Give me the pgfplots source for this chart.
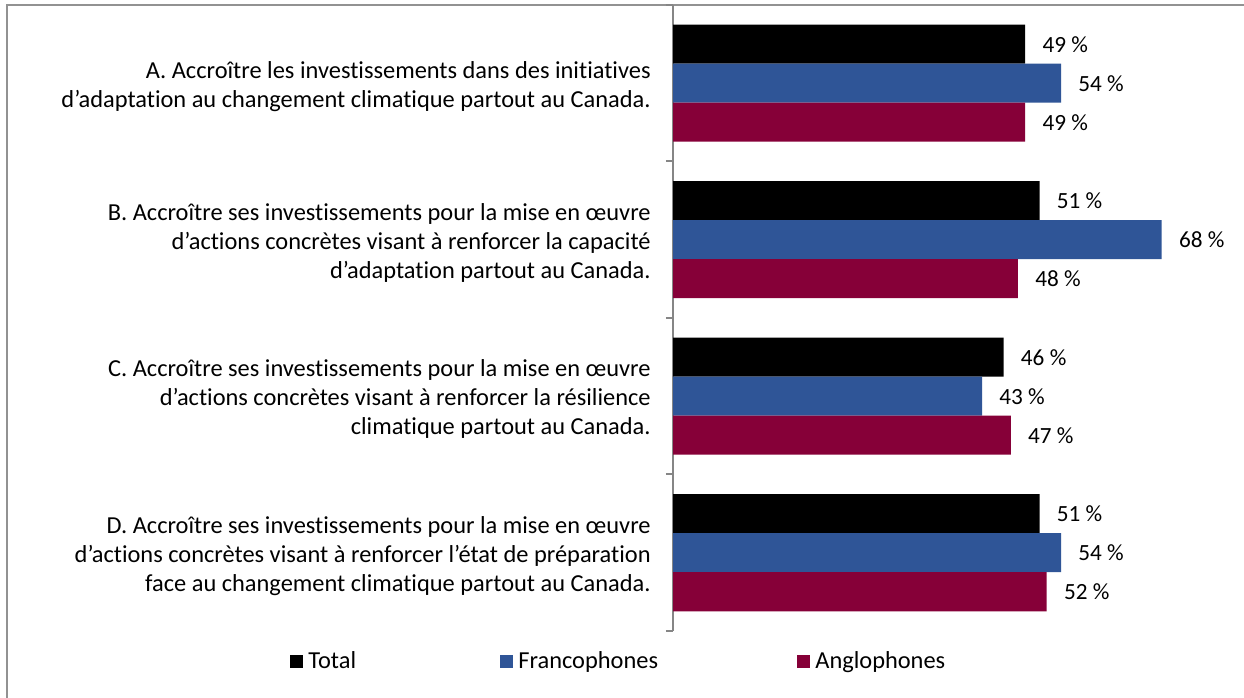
\documentclass[border=0pt]{standalone}
\usepackage{fontspec}
\setmainfont{Carlito}[Ligatures=NoCommon]
\usepackage{pgfplots}
\pgfplotsset{compat=1.18}
\definecolor{cTotal}{RGB}{0,0,0}
\definecolor{cFranco}{RGB}{47,85,151}
\definecolor{cAnglo}{RGB}{134,0,56}
\definecolor{axgray}{RGB}{134,134,134}
\begin{document}
\begin{tikzpicture}[font=\fontsize{12.2bp}{14.5bp}\selectfont]
\useasboundingbox (0,0) rectangle (622bp,349bp);
\fill[white] (0,0) rectangle (622bp,349bp);
\draw[axgray!90, line width=1bp] (3.25bp,0) -- (3.25bp,346.5bp) -- (622bp,346.5bp);
\begin{axis}[
  at={(336.5bp,33.5bp)}, anchor=south west,
  scale only axis, width=269.5bp, height=313bp,
  xbar, bar width=19.5bp,
  xmin=0, xmax=75, ymin=-0.5, ymax=3.5,
  axis x line=none, axis y line*=left,
  y axis line style={axgray, line width=1bp},
  ytick={0,1,2,3},
  yticklabels={
    {D. Accroître ses investissements pour la mise en œuvre\\d’actions concrètes visant à renforcer l’état de préparation\\face au changement climatique partout au Canada.},
    {C. Accroître ses investissements pour la mise en œuvre\\d’actions concrètes visant à renforcer la résilience\\climatique partout au Canada.},
    {B. Accroître ses investissements pour la mise en œuvre\\d’actions concrètes visant à renforcer la capacité\\d’adaptation partout au Canada.},
    {A. Accroître les investissements dans des initiatives\\d’adaptation au changement climatique partout au Canada.}},
  major tick length=0pt,
  yticklabel style={align=right, inner sep=0pt, xshift=-11bp, yshift=-1.5bp, font=\fontsize{12.2bp}{14.5bp}\selectfont},
  extra y ticks={-0.5,0.5,1.5,2.5,3.5},
  extra y tick labels={},
  extra y tick style={major tick length=3.5bp, tick align=outside, tick style={axgray, line width=1bp}},
  /pgf/number format/assume math mode=true,
  nodes near coords={\pgfmathprintnumber{\pgfplotspointmeta}~\%},
  nodes near coords align={horizontal},
  every node near coord/.append style={anchor=west, inner sep=0pt, xshift=8.5bp, text=black, font=\fontsize{11.6bp}{14.5bp}\selectfont},
  clip=false,
  legend columns=3,
  legend style={at={(-0.7106,-0.0495)}, anchor=west, draw=none, fill=none, inner sep=0pt, column sep=0pt,
    nodes={inner xsep=2.5bp, inner ysep=0pt, anchor=west}, font=\fontsize{12.2bp}{14.5bp}\selectfont},
  legend image code/.code={\fill[#1] (0bp,-3.25bp) rectangle (6.5bp,3.25bp);},
]
\addplot[fill=cTotal, draw=none, bar shift=19.5bp] coordinates {(49,3) (51,2) (46,1) (51,0)};
\addlegendentry{\makebox[93.5bp][l]{Total}}
\addplot[fill=cFranco, draw=none, bar shift=0bp] coordinates {(54,3) (68,2) (43,1) (54,0)};
\addlegendentry{\makebox[137bp][l]{Francophones}}
\addplot[fill=cAnglo, draw=none, bar shift=-19.5bp] coordinates {(49,3) (48,2) (47,1) (52,0)};
\addlegendentry{Anglophones}
\end{axis}
\end{tikzpicture}
\end{document}
